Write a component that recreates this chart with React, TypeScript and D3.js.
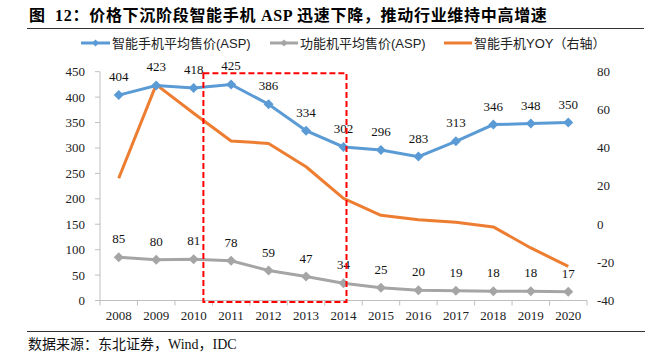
import React from 'react';
import * as d3 from 'd3';

const years = ['2008','2009','2010','2011','2012','2013','2014','2015','2016','2017','2018','2019','2020'];
const smartAsp = [404, 423, 418, 425, 386, 334, 302, 296, 283, 313, 346, 348, 350];
const featureAsp = [85, 80, 81, 78, 59, 47, 34, 25, 20, 19, 18, 18, 17];
const smartYoy = [24, 73, 58, 43.5, 42.2, 30, 13.4, 4.6, 2.2, 0.9, -1.5, -12.5, -22.1];
const leftTicks = [0, 50, 100, 150, 200, 250, 300, 350, 400, 450];
const rightTicks = [-40, -20, 0, 20, 40, 60, 80];
const seriesNames = ['智能手机平均售价(ASP)', '功能机平均售价(ASP)', '智能手机YOY（右轴）'];
const highlight = { from: '2010', to: '2014' };

const W = 663, H = 358;
const BLUE = '#5B9BD5', GRAY = '#A5A5A5', ORANGE = '#ED7D31';
const SERIF = '"Liberation Serif", "Times New Roman", "Noto Sans CJK SC", serif';
const SANS = '"Liberation Sans", Arial, "Noto Sans CJK SC", sans-serif';

export default function App() {
  const x = d3.scaleBand<string>().domain(years).range([100, 587]);
  const bw = x.bandwidth();
  const cx = (y: string) => (x(y) as number) + bw / 2;
  const yL = d3.scaleLinear().domain([0, 450]).range([300.5, 71.7]);
  const yR = d3.scaleLinear().domain([-40, 80]).range([300.5, 71.2]);

  const lineL = d3.line<number>().x((_, i) => cx(years[i])).y(d => yL(d));
  const lineR = d3.line<number>().x((_, i) => cx(years[i])).y(d => yR(d));
  const diamond = d3.symbol(d3.symbolSquare, 50)() as string;
  const diamondSmall = d3.symbol(d3.symbolSquare, 26)() as string;

  const boxL = (x(highlight.from) as number) + bw * 0.76;
  const boxR = (x(highlight.to) as number) + bw * 0.58;
  const boxT = yL(447);
  const boxB = yL(-3);

  const legend = [
    { name: seriesNames[0], color: BLUE, x1: 81, x2: 110, marker: true },
    { name: seriesNames[1], color: GRAY, x1: 270, x2: 298, marker: true },
    { name: seriesNames[2], color: ORANGE, x1: 444, x2: 472, marker: false },
  ];

  return (
    <svg width={W} height={H} style={{ position: 'absolute', left: 0, top: 0, background: '#fff' }}>
      {/* Title */}
      <text x={29} y={21} fontFamily={SERIF} fontWeight="bold" fontSize={16} letterSpacing={0.7} fill="#000" style={{ whiteSpace: 'pre' }}>
        {'图  12：价格下沉阶段智能手机 ASP 迅速下降，推动行业维持中高增速'}
      </text>
      <line x1={27} x2={644} y1={28.5} y2={28.5} stroke="#333" strokeWidth={1} />

      {/* Legend */}
      {legend.map((l, i) => (
        <g key={i}>
          <line x1={l.x1} x2={l.x2} y1={43} y2={43} stroke={l.color} strokeWidth={3} />
          {l.marker && <path d={diamondSmall} transform={`translate(${(l.x1 + l.x2) / 2},43) rotate(45)`} fill={l.color} />}
          <text x={l.x2 + 2} y={47.5} fontFamily={SANS} fontSize={13} fill="#222">{l.name}</text>
        </g>
      ))}

      {/* Left axis */}
      <line x1={100} x2={100} y1={yL(450)} y2={yL(0)} stroke="#BFBFBF" />
      {leftTicks.map(t => (
        <g key={t}>
          <line x1={95} x2={100} y1={yL(t)} y2={yL(t)} stroke="#BFBFBF" />
          <text x={85} y={yL(t) + 4.5} textAnchor="end" fontFamily={SERIF} fontSize={13} fill="#222">{t}</text>
        </g>
      ))}

      {/* Right axis labels */}
      {rightTicks.map(t => (
        <text key={t} x={597} y={yR(t) + 4.5} fontFamily={SERIF} fontSize={13} fill="#222">{t}</text>
      ))}

      {/* Bottom axis */}
      <line x1={100} x2={587} y1={yL(0)} y2={yL(0)} stroke="#BFBFBF" />
      {years.map(y => (
        <line key={'t' + y} x1={x(y) as number} x2={x(y) as number} y1={yL(0)} y2={yL(0) + 5} stroke="#BFBFBF" />
      ))}
      <line x1={587} x2={587} y1={yL(0)} y2={yL(0) + 5} stroke="#BFBFBF" />
      {years.map(y => (
        <text key={'l' + y} x={cx(y)} y={320} textAnchor="middle" fontFamily={SERIF} fontSize={13} fill="#222">{y}</text>
      ))}

      {/* Orange YOY line */}
      <path d={lineR(smartYoy) as string} fill="none" stroke={ORANGE} strokeWidth={3} strokeLinejoin="round" />

      {/* Gray feature phone */}
      <path d={lineL(featureAsp) as string} fill="none" stroke={GRAY} strokeWidth={3} />
      {featureAsp.map((v, i) => (
        <g key={'g' + i}>
          <path d={diamond} transform={`translate(${cx(years[i])},${yL(v)}) rotate(45)`} fill={GRAY} />
          <text x={cx(years[i])} y={yL(v) - 14} textAnchor="middle" fontFamily={SERIF} fontSize={13} fill="#111">{v}</text>
        </g>
      ))}

      {/* Blue smartphone */}
      <path d={lineL(smartAsp) as string} fill="none" stroke={BLUE} strokeWidth={3} />
      {smartAsp.map((v, i) => (
        <g key={'b' + i}>
          <path d={diamond} transform={`translate(${cx(years[i])},${yL(v)}) rotate(45)`} fill={BLUE} />
          <text x={cx(years[i])} y={yL(v) - 14} textAnchor="middle" fontFamily={SERIF} fontSize={13} fill="#111">{v}</text>
        </g>
      ))}

      {/* Highlight box */}
      <rect x={boxL} y={boxT} width={boxR - boxL} height={boxB - boxT} fill="none" stroke="#FF0000" strokeWidth={2} strokeDasharray="6,3" />

      {/* Footer */}
      <line x1={27} x2={645} y1={331.5} y2={331.5} stroke="#333" strokeWidth={1} />
      <text x={28} y={349} fontFamily={SERIF} fontSize={14} fill="#111">{'数据来源：东北证券，Wind，IDC'}</text>
    </svg>
  );
}
